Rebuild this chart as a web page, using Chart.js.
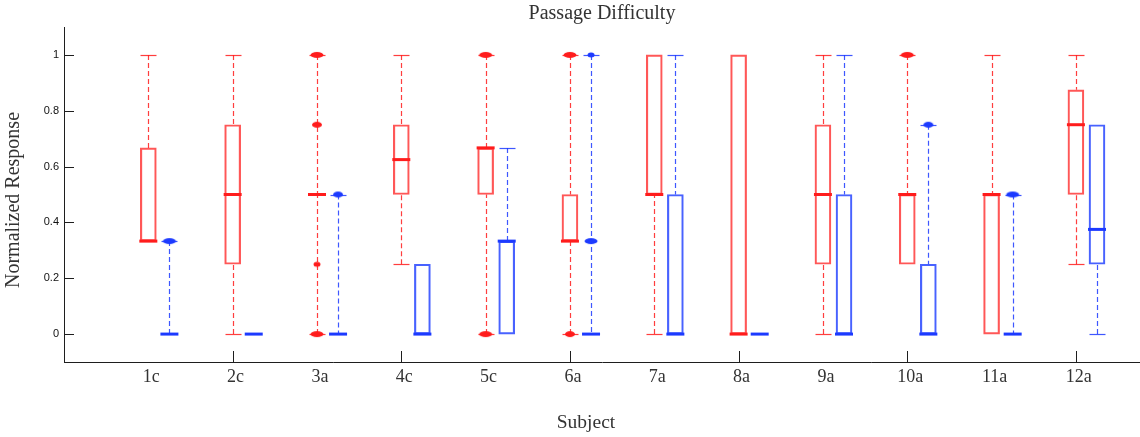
<!DOCTYPE html>
<html>
<head>
<meta charset="utf-8">
<title>Passage Difficulty</title>
<script src="https://cdn.jsdelivr.net/npm/chart.js@4.4.1/dist/chart.umd.min.js"></script>
<style>
  html, body { margin: 0; padding: 0; background: #ffffff; }
  #wrap { width: 1140px; height: 437px; }
</style>
</head>
<body>
<div id="wrap"><canvas id="chart" width="1140" height="437"></canvas></div>
<script>
// Subjects along the x axis
const subjects = ['1c', '2c', '3a', '4c', '5c', '6a', '7a', '8a', '9a', '10a', '11a', '12a'];
const yTicks = [0, 0.2, 0.4, 0.6, 0.8, 1];

// First group (red): whisker ends, quartiles and median per subject
const redLow  = [0.333, 0, 0, 0.25, 0, 0, 0, 0, 0, 0.25, 0, 0.25];
const redQ1   = [0.333, 0.25, 0.5, 0.5, 0.5, 0.333, 0.5, 0, 0.25, 0.25, 0, 0.5];
const redMed  = [0.333, 0.5, 0.5, 0.625, 0.667, 0.333, 0.5, 0, 0.5, 0.5, 0.5, 0.75];
const redQ3   = [0.667, 0.75, 0.5, 0.75, 0.667, 0.5, 1, 1, 0.75, 0.5, 0.5, 0.875];
const redHigh = [1, 1, 1, 1, 1, 1, 1, 1, 1, 1, 1, 1];

// Second group (blue)
const blueLow  = [0, 0, 0, 0, 0, 0, 0, 0, 0, 0, 0, 0];
const blueQ1   = [0, 0, 0, 0, 0, 0, 0, 0, 0, 0, 0, 0.25];
const blueMed  = [0, 0, 0, 0, 0.333, 0, 0, 0, 0, 0, 0, 0.375];
const blueQ3   = [0, 0, 0, 0.25, 0.333, 0, 0.5, 0, 0.5, 0.25, 0, 0.75];
const blueHigh = [0.333, 0, 0.5, 0.25, 0.667, 1, 1, 0, 1, 0.75, 0.5, 0.75];

// Outliers: [subject, value, number of coinciding responses]
const redOutliers = [
  ['3a', 0, 3], ['3a', 0.25, 1], ['3a', 0.75, 2], ['3a', 1, 3],
  ['5c', 0, 3], ['5c', 1, 3], ['6a', 0, 2], ['6a', 1, 3], ['10a', 1, 3]
];
const blueOutliers = [
  ['1c', 0.333, 3], ['3a', 0.5, 2], ['6a', 0.333, 3], ['6a', 1, 1],
  ['10a', 0.75, 2], ['11a', 0.5, 3]
];

// ---- styling ----
const RED = 'rgb(255,28,28)';
const RED_EDGE = 'rgba(255,45,45,0.8)';
const BLUE = 'rgb(28,58,255)';
const BLUE_EDGE = 'rgba(40,70,255,0.85)';
const SECOND_OFFSET = 0.25;   // the blue box sits just right of each subject
const LABEL_SHIFT = 0.035;    // subject labels sit a hair right of the tick
const BOX_W = 16;             // px
const MEDIAN_W = 18;          // px
const SERIF = '"Liberation Serif", "Times New Roman", serif';
const TEXT = '#333333';
const AXIS = '#1e1e1e';

function boxes(q1, q3, off) {
  const out = [];
  subjects.forEach((s, i) => {
    if (q3[i] > q1[i]) out.push({ x: i + 1 + off, y: [q1[i], q3[i]] });
  });
  return out;
}

function outlierPoints(list, off) {
  return list.map(([s, v, n]) => ({ x: subjects.indexOf(s) + 1 + off, y: v, n }));
}

function dotCanvas(n, color) {
  const w = 4 + 3 * n, h = n > 1 ? 6 : 5;
  const c = document.createElement('canvas');
  c.width = Math.ceil(w) + 2 + (Math.ceil(w) % 2);
  c.height = 8;
  const g = c.getContext('2d');
  g.fillStyle = color;
  g.beginPath();
  g.ellipse(c.width / 2, c.height / 2, w / 2, h / 2, 0, 0, Math.PI * 2);
  g.fill();
  return c;
}
const redDots = { 1: dotCanvas(1, RED), 2: dotCanvas(2, RED), 3: dotCanvas(3, RED) };
const blueDots = { 1: dotCanvas(1, BLUE), 2: dotCanvas(2, BLUE), 3: dotCanvas(3, BLUE) };

const groups = [
  { low: redLow, q1: redQ1, med: redMed, q3: redQ3, high: redHigh, off: 0, color: RED },
  { low: blueLow, q1: blueQ1, med: blueMed, q3: blueQ3, high: blueHigh, off: SECOND_OFFSET, color: BLUE }
];

// Whiskers and caps go under the boxes; medians and axis ticks on top.
const boxplotParts = {
  id: 'boxplotParts',
  beforeDatasetsDraw(chart) {
    const { ctx, scales: { x, y } } = chart;
    ctx.save();
    groups.forEach(g => {
      subjects.forEach((s, i) => {
        const px = Math.round(x.getPixelForValue(i + 1 + g.off)) + 0.5;
        ctx.strokeStyle = g.color;
        ctx.globalAlpha = 0.85;
        ctx.lineWidth = 1.2;
        const segs = [];
        if (g.high[i] > g.q3[i]) segs.push([g.high[i], g.q3[i]]);
        if (g.low[i] < g.q1[i]) segs.push([g.low[i], g.q1[i]]);
        segs.forEach(([end, edge]) => {
          const ye = y.getPixelForValue(end);
          const yb = y.getPixelForValue(edge);
          ctx.setLineDash([5, 3]);
          ctx.beginPath();
          ctx.moveTo(px, ye);
          ctx.lineTo(px, yb);
          ctx.stroke();
          ctx.setLineDash([]);
          ctx.beginPath();
          ctx.moveTo(px - BOX_W / 2, Math.round(ye) + 0.5);
          ctx.lineTo(px + BOX_W / 2, Math.round(ye) + 0.5);
          ctx.stroke();
        });
      });
    });
    ctx.restore();
  },
  afterDatasetsDraw(chart) {
    const { ctx, scales: { x, y }, chartArea: a } = chart;
    ctx.save();
    groups.forEach(g => {
      ctx.strokeStyle = g.color;
      ctx.lineWidth = 3;
      subjects.forEach((s, i) => {
        const px = x.getPixelForValue(i + 1 + g.off);
        const py = y.getPixelForValue(g.med[i]);
        ctx.beginPath();
        ctx.moveTo(px - MEDIAN_W / 2, py);
        ctx.lineTo(px + MEDIAN_W / 2, py);
        ctx.stroke();
      });
    });
    // inward tick marks
    ctx.strokeStyle = AXIS;
    ctx.lineWidth = 1;
    ctx.beginPath();
    yTicks.forEach(v => {
      const py = Math.round(y.getPixelForValue(v)) + 0.5;
      ctx.moveTo(a.left, py);
      ctx.lineTo(a.left + 10, py);
    });
    subjects.forEach((s, i) => {
      if ((i + 1) % 2 === 0) {
        const px = Math.round(x.getPixelForValue(i + 1)) + 0.5;
        ctx.moveTo(px, a.bottom);
        ctx.lineTo(px, a.bottom - 11);
      }
    });
    ctx.stroke();
    ctx.restore();
  },
  afterDraw(chart) {
    const { ctx, chartArea: a } = chart;
    ctx.save();
    ctx.fillStyle = TEXT;
    ctx.font = '20px ' + SERIF;
    ctx.textAlign = 'center';
    // y-axis caption
    ctx.save();
    ctx.translate(14, (a.top + a.bottom) / 2 + 5.5);
    ctx.rotate(-Math.PI / 2);
    ctx.textBaseline = 'middle';
    ctx.fillText('Normalized Response', 0, 0);
    ctx.restore();
    // x-axis caption
    ctx.font = '19.5px ' + SERIF;
    ctx.textBaseline = 'alphabetic';
    ctx.fillText('Subject', (a.left + a.right) / 2 - 16, a.bottom + 66);
    ctx.restore();
  }
};

new Chart(document.getElementById('chart'), {
  type: 'bar',
  data: {
    datasets: [
      {
        label: 'red boxes', data: boxes(redQ1, redQ3, 0),
        backgroundColor: 'rgba(0,0,0,0)', borderColor: RED_EDGE, borderWidth: 1.5,
        borderSkipped: false, barThickness: BOX_W, grouped: false
      },
      {
        label: 'blue boxes', data: boxes(blueQ1, blueQ3, SECOND_OFFSET),
        backgroundColor: 'rgba(0,0,0,0)', borderColor: BLUE_EDGE, borderWidth: 1.5,
        borderSkipped: false, barThickness: BOX_W, grouped: false
      },
      {
        type: 'scatter', label: 'red outliers', data: outlierPoints(redOutliers, 0),
        pointStyle: c => redDots[c.raw.n], pointRadius: 5, showLine: false
      },
      {
        type: 'scatter', label: 'blue outliers', data: outlierPoints(blueOutliers, SECOND_OFFSET),
        pointStyle: c => blueDots[c.raw.n], pointRadius: 5, showLine: false
      }
    ]
  },
  options: {
    responsive: false,
    animation: false,
    events: [],
    layout: { padding: 0, autoPadding: false },
    plugins: {
      legend: { display: false },
      tooltip: { enabled: false },
      title: {
        display: true, text: 'Passage Difficulty', fullSize: false,
        color: TEXT, font: { family: SERIF, size: 20, weight: 'normal' },
        padding: { top: 2, bottom: 1 }
      }
    },
    scales: {
      x: {
        type: 'linear', min: 0, max: 12.76, offset: false,
        afterBuildTicks: s => { s.ticks = subjects.map((_, i) => ({ value: i + 1 + LABEL_SHIFT })); },
        afterFit: s => { s.height = 75; s.paddingLeft = 0; s.paddingRight = 0; },
        grid: { display: false, drawTicks: false },
        border: { display: true, color: AXIS, width: 1 },
        ticks: {
          autoSkip: false, maxRotation: 0, padding: 4, color: TEXT,
          font: { family: SERIF, size: 18 },
          callback: v => subjects[Math.round(v) - 1]
        }
      },
      y: {
        type: 'linear', min: -0.1, max: 1.1,
        afterBuildTicks: s => { s.ticks = yTicks.map(v => ({ value: v })); },
        afterFit: s => { s.width = 64; s.paddingTop = 0; s.paddingBottom = 0; },
        grid: { display: false, drawTicks: false },
        border: { display: true, color: AXIS, width: 1 },
        ticks: {
          padding: 5, color: '#111111',
          font: { family: '"Liberation Sans", Arial, sans-serif', size: 11 },
          callback: v => String(v)
        }
      }
    }
  },
  plugins: [boxplotParts]
});
</script>
</body>
</html>
